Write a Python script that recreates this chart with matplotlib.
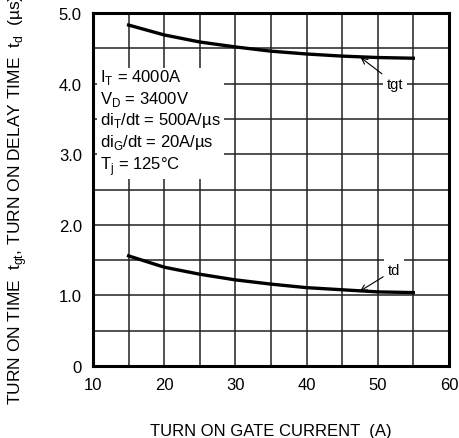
import matplotlib
matplotlib.use("Agg")
import matplotlib.pyplot as plt
import numpy as np

plt.rcParams['font.family'] = ['Liberation Sans', 'DejaVu Sans']
plt.rcParams['mathtext.fontset'] = 'custom'
plt.rcParams['mathtext.rm'] = 'Liberation Sans'

gate_current = [15, 20, 25, 30, 35, 40, 45, 50, 55]
tgt = [4.83, 4.69, 4.59, 4.52, 4.46, 4.42, 4.39, 4.37, 4.36]
td = [1.56, 1.40, 1.30, 1.22, 1.16, 1.11, 1.08, 1.05, 1.04]

x_ticks = [10, 20, 30, 40, 50, 60]
y_ticks = [0, 1, 2, 3, 4, 5]
y_tick_labels = ["0", "1.0", "2.0", "3.0", "4.0", "5.0"]

fig = plt.figure(figsize=(4.59, 4.39), dpi=100)
ax = fig.add_axes([0.2026, 0.164, 0.7754, 0.804])

ax.set_xlim(10, 60)
ax.set_ylim(0, 5)
ax.set_xticks(x_ticks, labels=[str(v) for v in x_ticks])
ax.set_xticks(np.arange(15, 60, 10), minor=True)
ax.set_yticks(y_ticks, labels=y_tick_labels)
ax.set_yticks(np.arange(0.5, 5, 1), minor=True)
ax.grid(True, which='both', color='#222222', linewidth=1.1)
ax.tick_params(which='both', length=0, labelsize=12, pad=8)
for s in ax.spines.values():
    s.set_linewidth(2.2)

ax.plot(gate_current, tgt, color='black', lw=2.4, zorder=3)
ax.plot(gate_current, td, color='black', lw=2.4, zorder=3)

cond = ("I$_{\\mathregular{T}}$ = 4000A\n"
        "V$_{\\mathregular{D}}$ = 3400V\n"
        "di$_{\\mathregular{T}}$/dt = 500A/\u00b5s\n"
        "di$_{\\mathregular{G}}$/dt = 20A/\u00b5s\n"
        "T$_{\\mathregular{j}}$ = 125\u00b0C")
ax.text(11.0, 4.23, cond, fontsize=12, va='top', ha='left', linespacing=1.18,
        bbox=dict(facecolor='white', edgecolor='none', pad=2), zorder=4)

ax.annotate("tgt", xy=(47.6, 4.37), xytext=(52.4, 4.0),
            fontsize=10.5, ha='center', va='center',
            bbox=dict(facecolor='white', edgecolor='none', pad=2.5),
            arrowprops=dict(arrowstyle='->', color='black', lw=0.8,
                            shrinkA=1, shrinkB=0), zorder=4)
ax.annotate("td", xy=(47.5, 1.06), xytext=(52.3, 1.36),
            fontsize=10.5, ha='center', va='center',
            bbox=dict(facecolor='white', edgecolor='none', pad=2.5),
            arrowprops=dict(arrowstyle='->', color='black', lw=0.8,
                            shrinkA=1, shrinkB=0), zorder=4)

ax.set_xlabel("TURN ON GATE CURRENT  (A)", fontsize=12, labelpad=22)
fig.text(18 / 459, 1 - 405 / 439,
         "TURN ON TIME  t$_{\\mathregular{gt}}$, TURN ON DELAY TIME  t$_{\\mathregular{d}}$  (\u00b5s)",
         rotation=90, ha='center', va='bottom', fontsize=12.5)

fig.savefig("out.png", dpi=100)
